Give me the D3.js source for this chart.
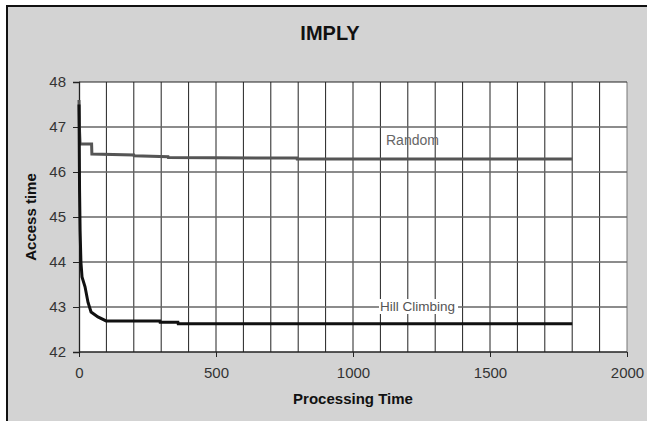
<!DOCTYPE html>
<html><head><meta charset="utf-8">
<script src="https://cdn.jsdelivr.net/npm/d3@7"></script>
<style>body{margin:0;background:#fff}svg{display:block}text{font-family:Arial,"Liberation Sans",sans-serif}</style>
</head><body>
<svg id="c" width="647" height="421"></svg>
<script>
const title = "IMPLY";
const xLabel = "Processing Time";
const yLabel = "Access time";
const xTicks = [0, 500, 1000, 1500, 2000];
const yTicks = [42, 43, 44, 45, 46, 47, 48];
const randomX = [0, 2, 4, 46, 47, 200, 201, 325, 326, 795, 796, 1800];
const randomY = [47.6, 46.9, 46.62, 46.62, 46.4, 46.38, 46.36, 46.34, 46.32, 46.31, 46.29, 46.29];
const hillX = [0, 2, 4, 7, 11, 22, 33, 44, 69, 99, 295, 296, 361, 362, 1800];
const hillY = [47.5, 45.6, 44.7, 44.0, 43.67, 43.45, 43.1, 42.89, 42.78, 42.69, 42.69, 42.66, 42.66, 42.63, 42.63];
const seriesNames = ["Random", "Hill Climbing"];

const svg = d3.select("#c");
const m = {l: 79, r: 627, t: 82, b: 352};
const x = d3.scaleLinear().domain([0, 2000]).range([m.l, m.r]);
const y = d3.scaleLinear().domain([42, 48]).range([m.b, m.t]);

// outer frame
svg.append("rect").attr("x", 7).attr("y", 6).attr("width", 660).attr("height", 430)
  .attr("fill", "#d3d3d3").attr("stroke", "#111").attr("stroke-width", 2);

// plot area
svg.append("rect").attr("x", m.l).attr("y", m.t).attr("width", m.r - m.l).attr("height", m.b - m.t)
  .attr("fill", "#fff");

// vertical grid
svg.append("g").selectAll("line").data(d3.range(100, 2001, 100)).join("line")
  .attr("x1", d => x(d)).attr("x2", d => x(d)).attr("y1", m.t).attr("y2", m.b)
  .attr("stroke", d => d === 2000 ? "#777" : "#222").attr("stroke-width", 1);
// horizontal grid
svg.append("g").selectAll("line").data(yTicks.slice(1)).join("line")
  .attr("x1", m.l).attr("x2", m.r).attr("y1", d => y(d)).attr("y2", d => y(d))
  .attr("stroke", d => d === 48 ? "#222" : "#666").attr("stroke-width", d => d === 48 ? 1 : 1.6);

// axes
const xa = svg.append("g").attr("transform", `translate(0,${m.b})`)
  .call(d3.axisBottom(x).tickValues(xTicks).tickSize(5).tickPadding(10).tickFormat(d3.format("d")));
const ya = svg.append("g").attr("transform", `translate(${m.l},0)`)
  .call(d3.axisLeft(y).tickValues(yTicks).tickSize(6).tickPadding(7).tickFormat(d3.format("d")));
[xa, ya].forEach(a => {
  a.select(".domain").attr("stroke", "#222").attr("stroke-width", 1.3);
  a.selectAll(".tick line").attr("stroke", "#222");
  a.selectAll(".tick text").attr("font-size", 15).attr("fill", "#333")
    .attr("font-family", "Arial, 'Liberation Sans', sans-serif");
});
xa.select(".domain").attr("d", `M${m.l},0H${m.r}`);

// lines
const line = d3.line().x(d => x(d[0])).y(d => y(d[1]));
svg.append("path").datum(d3.zip(randomX, randomY)).attr("d", line)
  .attr("fill", "none").attr("stroke", "#555").attr("stroke-width", 3);
svg.append("path").datum(d3.zip(hillX, hillY)).attr("d", line)
  .attr("fill", "none").attr("stroke", "#111").attr("stroke-width", 3);

// series labels
svg.append("text").attr("x", 386).attr("y", 145).attr("font-size", 14).attr("fill", "#666").text(seriesNames[0]);
const hg = svg.append("g");
const hr = hg.append("rect").attr("fill", "#fff");
const hl = hg.append("text").attr("x", 380).attr("y", 311).attr("font-size", 13.5).attr("fill", "#555").text(seriesNames[1]);
const bb = hl.node().getBBox();
hr.attr("x", bb.x - 1).attr("y", bb.y).attr("width", bb.width + 4).attr("height", bb.height);

// titles
svg.append("text").attr("x", 330).attr("y", 40).attr("text-anchor", "middle")
  .attr("font-size", 20).attr("font-weight", "bold").attr("fill", "#111").text(title);
svg.append("text").attr("x", 353).attr("y", 404).attr("text-anchor", "middle")
  .attr("font-size", 15).attr("font-weight", "bold").attr("fill", "#111").text(xLabel);
svg.append("text").attr("transform", "translate(36,217) rotate(-90)").attr("text-anchor", "middle")
  .attr("font-size", 15).attr("font-weight", "bold").attr("fill", "#111").text(yLabel);
</script>
</body></html>
